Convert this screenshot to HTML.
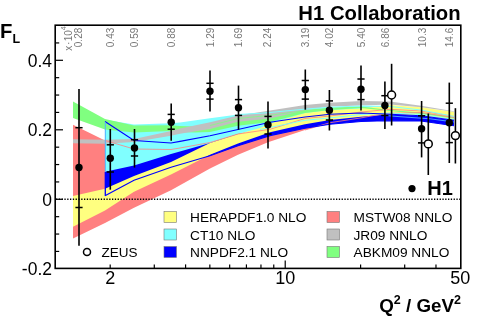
<!DOCTYPE html>
<html><head><meta charset="utf-8"><style>
html,body{margin:0;padding:0;background:#fff;}
svg{display:block;will-change:transform;}
</style></head><body>
<svg width="498" height="324" viewBox="0 0 498 324">
<rect width="498" height="324" fill="#fff"/>
<polygon points="73,124.7 105,140.5 134,149 171,149.5 180,148 210,142.5 238,134 270,129.3 305,118.5 330,116 361,112 390,109.3 421,111 454,116.5 454,117.5 421,112.5 385,113.5 361,117.9 330,122.7 305,130 268,142.3 238,154.8 210,168.5 171,190.2 134,207.8 105,223 73,238.5" fill="#ff8080"/>
<polygon points="105,121.5 134,140.5 171,143 180,141.4 210,135.7 238,129.5 270,122.3 305,117 330,114.3 361,113 385,114 421,115.7 454,120.3 454,125.7 421,121 385,120.8 361,121.5 330,124.2 305,128.3 270,135.6 238,145.8 210,155.7 171,167.3 134,180.2 105,195.8" fill="#0000ff"/>
<polygon points="105,119.8 134,124.6 171,123.3 180,122.5 210,118.2 238,114.5 260,113.3 270,112.5 305,109.1 330,107.2 361,106 390,106.5 421,110 454,116.4 454,119.5 421,114.5 390,113 361,114.5 330,117.9 305,120.3 270,127.5 260,129.5 238,134 210,143 171,154 134,165.6 105,171.7" fill="#80ffff"/>
<polygon points="73,196 105,188.8 134,176 171,162 210,143 238,134 260,128 270,123.5 305,113 330,110 361,108.5 390,105 421,107.3 454,112 454,120.3 421,115.7 390,114.3 361,116.7 330,120 305,124.3 270,132.2 238,143.6 210,154.7 171,174.6 134,191.7 105,210.5 73,226.7" fill="#ffff80"/>
<polygon points="73,101.4 105,119.1 134,125.6 171,125.3 180,126 195,126.5 210,126 238,119.5 270,116 305,110 330,107.5 361,106.5 390,110 421,112.5 454,117 454,118.5 421,114 390,111 361,108 330,110 305,113 270,122 238,125.7 210,132.1 195,132.5 180,132 171,130.9 134,132.5 105,129.5 73,118" fill="#80ff80"/>
<polygon points="73,139.2 105,139.7 134,138.9 171,130.9 180,128.6 210,122.2 238,115.6 270,110.4 305,105 330,102.8 361,101 390,101.6 421,105.7 454,111.2 454,111.8 421,107.3 390,104.6 361,105.6 330,106.4 305,110.3 270,118.5 238,121.7 210,128.9 180,133.7 171,135.7 134,142 105,143.7 73,143.2" fill="#c0c0c0"/>
<polyline points="105,140.5 134,149 171,149.5 180,148 210,142.5 238,134 270,129.3 305,118.5 330,116 361,112 390,109.3 421,111 454,116.5" fill="none" stroke="#ff8080" stroke-width="0.8"/>
<polyline points="305,130 330,122.7 361,117.9 385,113.5 421,112.5 454,117.5" fill="none" stroke="#ff8080" stroke-width="0.8"/>
<polyline points="238,114.5 260,113.3 270,112.5 305,109.1 330,107.2 361,106 390,106.5 421,110 454,116.4" fill="none" stroke="#80ffff" stroke-width="1"/>
<polyline points="260,129.5 270,127.5 305,120.3 330,117.9 361,114.5 390,113 421,114.5 454,119.5" fill="none" stroke="#80ffff" stroke-width="1"/>
<polyline points="105.3,172 105.3,195.8" fill="none" stroke="#0000ff" stroke-width="1.3"/>
<polyline points="105,121.5 134,140.5 171,143 180,141.4 210,135.7 238,129.5 270,122.3 305,117 330,114.3 361,113 385,114 421,115.7 454,120.3" fill="none" stroke="#0000ff" stroke-width="1.15"/>
<polyline points="105.3,122 105.3,172" fill="none" stroke="#50b0ff" stroke-width="1"/>
<polyline points="105,195.8 134,180.2 171,167.3 210,155.7 238,145.8 270,135.6 305,128.3 330,124.2 361,121.5 385,120.8 421,121 454,125.7" fill="none" stroke="#0000ff" stroke-width="1.15"/>
<polyline points="385,115.5 400,116.7 430,118.8 454,122" fill="none" stroke="#60c8ff" stroke-width="0.8"/>
<polyline points="210,125.5 238,118.5 270,115.3 305,110.6" fill="none" stroke="#80ff80" stroke-width="0.8"/>
<line x1="56" y1="199.3" x2="460.5" y2="199.3" stroke="#000" stroke-width="1.4" stroke-dasharray="1.3 1.5"/>
<line x1="79" y1="89" x2="79" y2="245.7" stroke="#000" stroke-width="1.6"/>
<line x1="75.4" y1="127.7" x2="82.6" y2="127.7" stroke="#000" stroke-width="1.5"/>
<line x1="75.4" y1="207.5" x2="82.6" y2="207.5" stroke="#000" stroke-width="1.5"/>
<circle cx="79" cy="167.5" r="3.7" fill="#000"/>
<line x1="110.3" y1="129" x2="110.3" y2="189.7" stroke="#000" stroke-width="1.6"/>
<line x1="106.7" y1="144.8" x2="113.89999999999999" y2="144.8" stroke="#000" stroke-width="1.5"/>
<line x1="106.7" y1="172" x2="113.89999999999999" y2="172" stroke="#000" stroke-width="1.5"/>
<circle cx="110.3" cy="158.3" r="3.7" fill="#000"/>
<line x1="134.5" y1="129" x2="134.5" y2="167.6" stroke="#000" stroke-width="1.6"/>
<line x1="130.9" y1="139.7" x2="138.1" y2="139.7" stroke="#000" stroke-width="1.5"/>
<line x1="130.9" y1="156" x2="138.1" y2="156" stroke="#000" stroke-width="1.5"/>
<circle cx="134.5" cy="148" r="3.7" fill="#000"/>
<line x1="171.2" y1="103.4" x2="171.2" y2="140.8" stroke="#000" stroke-width="1.6"/>
<line x1="167.6" y1="114.4" x2="174.79999999999998" y2="114.4" stroke="#000" stroke-width="1.5"/>
<line x1="167.6" y1="129.2" x2="174.79999999999998" y2="129.2" stroke="#000" stroke-width="1.5"/>
<circle cx="171.2" cy="122.2" r="3.7" fill="#000"/>
<line x1="210" y1="70.5" x2="210" y2="111.4" stroke="#000" stroke-width="1.6"/>
<line x1="206.4" y1="83.3" x2="213.6" y2="83.3" stroke="#000" stroke-width="1.5"/>
<line x1="206.4" y1="99.1" x2="213.6" y2="99.1" stroke="#000" stroke-width="1.5"/>
<circle cx="210" cy="91.3" r="3.7" fill="#000"/>
<line x1="238.5" y1="85.6" x2="238.5" y2="129.7" stroke="#000" stroke-width="1.6"/>
<line x1="234.9" y1="99.6" x2="242.1" y2="99.6" stroke="#000" stroke-width="1.5"/>
<line x1="234.9" y1="115.4" x2="242.1" y2="115.4" stroke="#000" stroke-width="1.5"/>
<circle cx="238.5" cy="107.7" r="3.7" fill="#000"/>
<line x1="268" y1="101.4" x2="268" y2="148.6" stroke="#000" stroke-width="1.6"/>
<line x1="264.4" y1="116.4" x2="271.6" y2="116.4" stroke="#000" stroke-width="1.5"/>
<line x1="264.4" y1="134" x2="271.6" y2="134" stroke="#000" stroke-width="1.5"/>
<circle cx="268" cy="124.7" r="3.7" fill="#000"/>
<line x1="305.3" y1="69.5" x2="305.3" y2="109.7" stroke="#000" stroke-width="1.6"/>
<line x1="301.7" y1="80.5" x2="308.90000000000003" y2="80.5" stroke="#000" stroke-width="1.5"/>
<line x1="301.7" y1="99.1" x2="308.90000000000003" y2="99.1" stroke="#000" stroke-width="1.5"/>
<circle cx="305.3" cy="89.6" r="3.7" fill="#000"/>
<line x1="329.4" y1="90" x2="329.4" y2="130.5" stroke="#000" stroke-width="1.6"/>
<line x1="325.79999999999995" y1="100.9" x2="333.0" y2="100.9" stroke="#000" stroke-width="1.5"/>
<line x1="325.79999999999995" y1="120" x2="333.0" y2="120" stroke="#000" stroke-width="1.5"/>
<circle cx="329.4" cy="110.2" r="3.7" fill="#000"/>
<line x1="361" y1="65.5" x2="361" y2="110.4" stroke="#000" stroke-width="1.6"/>
<line x1="357.4" y1="79" x2="364.6" y2="79" stroke="#000" stroke-width="1.5"/>
<line x1="357.4" y1="99.6" x2="364.6" y2="99.6" stroke="#000" stroke-width="1.5"/>
<circle cx="361" cy="89.3" r="3.7" fill="#000"/>
<line x1="384.9" y1="81.4" x2="384.9" y2="129" stroke="#000" stroke-width="1.6"/>
<line x1="381.29999999999995" y1="95.7" x2="388.5" y2="95.7" stroke="#000" stroke-width="1.5"/>
<line x1="381.29999999999995" y1="115.5" x2="388.5" y2="115.5" stroke="#000" stroke-width="1.5"/>
<circle cx="384.9" cy="105.5" r="3.7" fill="#000"/>
<line x1="421.6" y1="101" x2="421.6" y2="157.4" stroke="#000" stroke-width="1.6"/>
<line x1="418.0" y1="115.8" x2="425.20000000000005" y2="115.8" stroke="#000" stroke-width="1.5"/>
<line x1="418.0" y1="142.9" x2="425.20000000000005" y2="142.9" stroke="#000" stroke-width="1.5"/>
<circle cx="421.6" cy="128.8" r="3.7" fill="#000"/>
<line x1="449.3" y1="82.6" x2="449.3" y2="163" stroke="#000" stroke-width="1.6"/>
<line x1="445.7" y1="103.2" x2="452.90000000000003" y2="103.2" stroke="#000" stroke-width="1.5"/>
<line x1="445.7" y1="142.6" x2="452.90000000000003" y2="142.6" stroke="#000" stroke-width="1.5"/>
<circle cx="449.3" cy="122.8" r="3.7" fill="#000"/>
<line x1="391.6" y1="63.8" x2="391.6" y2="125.5" stroke="#000" stroke-width="1.6"/>
<circle cx="391.6" cy="95" r="3.95" fill="#fff" stroke="#000" stroke-width="1.5"/>
<line x1="428.3" y1="113.5" x2="428.3" y2="175" stroke="#000" stroke-width="1.6"/>
<circle cx="428.3" cy="143.9" r="3.95" fill="#fff" stroke="#000" stroke-width="1.5"/>
<line x1="455.4" y1="108.2" x2="455.4" y2="163.5" stroke="#000" stroke-width="1.6"/>
<circle cx="455.4" cy="135.6" r="3.95" fill="#fff" stroke="#000" stroke-width="1.5"/>
<rect x="55.2" y="25.2" width="405.6" height="243.2" fill="none" stroke="#000" stroke-width="1.6"/>
<line x1="55.2" y1="251.43" x2="59.2" y2="251.43" stroke="#000" stroke-width="1.2"/>
<line x1="55.2" y1="234.05" x2="59.2" y2="234.05" stroke="#000" stroke-width="1.2"/>
<line x1="55.2" y1="216.68" x2="59.2" y2="216.68" stroke="#000" stroke-width="1.2"/>
<line x1="55.2" y1="199.30" x2="63.0" y2="199.30" stroke="#000" stroke-width="1.2"/>
<line x1="55.2" y1="181.93" x2="59.2" y2="181.93" stroke="#000" stroke-width="1.2"/>
<line x1="55.2" y1="164.55" x2="59.2" y2="164.55" stroke="#000" stroke-width="1.2"/>
<line x1="55.2" y1="147.18" x2="59.2" y2="147.18" stroke="#000" stroke-width="1.2"/>
<line x1="55.2" y1="129.80" x2="63.0" y2="129.80" stroke="#000" stroke-width="1.2"/>
<line x1="55.2" y1="112.43" x2="59.2" y2="112.43" stroke="#000" stroke-width="1.2"/>
<line x1="55.2" y1="95.05" x2="59.2" y2="95.05" stroke="#000" stroke-width="1.2"/>
<line x1="55.2" y1="77.68" x2="59.2" y2="77.68" stroke="#000" stroke-width="1.2"/>
<line x1="55.2" y1="60.30" x2="63.0" y2="60.30" stroke="#000" stroke-width="1.2"/>
<line x1="55.2" y1="42.93" x2="59.2" y2="42.93" stroke="#000" stroke-width="1.2"/>
<line x1="110.20" y1="268.4" x2="110.20" y2="264.4" stroke="#000" stroke-width="1.2"/>
<line x1="154.29" y1="268.4" x2="154.29" y2="264.4" stroke="#000" stroke-width="1.2"/>
<line x1="185.58" y1="268.4" x2="185.58" y2="264.4" stroke="#000" stroke-width="1.2"/>
<line x1="209.84" y1="268.4" x2="209.84" y2="264.4" stroke="#000" stroke-width="1.2"/>
<line x1="229.67" y1="268.4" x2="229.67" y2="264.4" stroke="#000" stroke-width="1.2"/>
<line x1="246.43" y1="268.4" x2="246.43" y2="264.4" stroke="#000" stroke-width="1.2"/>
<line x1="260.96" y1="268.4" x2="260.96" y2="264.4" stroke="#000" stroke-width="1.2"/>
<line x1="273.76" y1="268.4" x2="273.76" y2="264.4" stroke="#000" stroke-width="1.2"/>
<line x1="360.60" y1="268.4" x2="360.60" y2="264.4" stroke="#000" stroke-width="1.2"/>
<line x1="404.69" y1="268.4" x2="404.69" y2="264.4" stroke="#000" stroke-width="1.2"/>
<line x1="435.98" y1="268.4" x2="435.98" y2="264.4" stroke="#000" stroke-width="1.2"/>
<line x1="285.22" y1="268.4" x2="285.22" y2="260.59999999999997" stroke="#000" stroke-width="1.2"/>
<text x="52" y="66.5" font-family="Liberation Sans, sans-serif" font-size="17.5" text-anchor="end">0.4</text>
<text x="52" y="136.0" font-family="Liberation Sans, sans-serif" font-size="17.5" text-anchor="end">0.2</text>
<text x="52" y="205.5" font-family="Liberation Sans, sans-serif" font-size="17.5" text-anchor="end">0</text>
<text x="52" y="275.0" font-family="Liberation Sans, sans-serif" font-size="17.5" text-anchor="end">-0.2</text>
<text x="110.2" y="284.3" font-family="Liberation Sans, sans-serif" font-size="18" text-anchor="middle">2</text>
<text x="285.2" y="284.3" font-family="Liberation Sans, sans-serif" font-size="18" text-anchor="middle">10</text>
<text x="460.2" y="284.3" font-family="Liberation Sans, sans-serif" font-size="18" text-anchor="middle">50</text>
<text x="460.6" y="19.9" font-family="Liberation Sans, sans-serif" font-size="20.3" font-weight="bold" text-anchor="end">H1 Collaboration</text>
<text x="0" y="37.7" font-family="Liberation Sans, sans-serif" font-size="20.3" font-weight="bold">F<tspan font-size="12.5" dy="5.2">L</tspan></text>
<text x="461" y="312" font-family="Liberation Sans, sans-serif" font-size="18.8" font-weight="bold" text-anchor="end">Q<tspan font-size="12.5" dy="-8">2</tspan><tspan dy="8"> / GeV</tspan><tspan font-size="12.5" dy="-8">2</tspan></text>
<rect x="164" y="211.5" width="12.5" height="11" fill="#ffff80" stroke="#777" stroke-width="0.6"/>
<text x="190" y="222.2" font-family="Liberation Sans, sans-serif" font-size="13.7">HERAPDF1.0 NLO</text>
<rect x="164" y="229.0" width="12.5" height="11" fill="#80ffff" stroke="#777" stroke-width="0.6"/>
<text x="190" y="239.7" font-family="Liberation Sans, sans-serif" font-size="13.7">CT10 NLO</text>
<rect x="164" y="246.5" width="12.5" height="11" fill="#0000ff" stroke="#777" stroke-width="0.6"/>
<text x="190" y="257.2" font-family="Liberation Sans, sans-serif" font-size="13.7">NNPDF2.1 NLO</text>
<rect x="327" y="211.5" width="12.5" height="11" fill="#ff8080" stroke="#777" stroke-width="0.6"/>
<text x="353.5" y="222.2" font-family="Liberation Sans, sans-serif" font-size="13.7">MSTW08 NNLO</text>
<rect x="327" y="229.0" width="12.5" height="11" fill="#c0c0c0" stroke="#777" stroke-width="0.6"/>
<text x="353.5" y="239.7" font-family="Liberation Sans, sans-serif" font-size="13.7">JR09 NNLO</text>
<rect x="327" y="246.5" width="12.5" height="11" fill="#80ff80" stroke="#777" stroke-width="0.6"/>
<text x="353.5" y="257.2" font-family="Liberation Sans, sans-serif" font-size="13.7">ABKM09 NNLO</text>
<circle cx="87" cy="252" r="3.5" fill="#fff" stroke="#000" stroke-width="1.5"/>
<text x="101.5" y="257" font-family="Liberation Sans, sans-serif" font-size="13.5">ZEUS</text>
<circle cx="412" cy="188.6" r="3.6" fill="#000"/>
<text x="427.3" y="195.2" font-family="Liberation Sans, sans-serif" font-size="20" font-weight="bold">H1</text>
<text transform="translate(81.6,47.2) rotate(-90)" font-family="Liberation Sans, sans-serif" font-size="10" fill="#787878">0.28</text>
<text transform="translate(113.6,47.2) rotate(-90)" font-family="Liberation Sans, sans-serif" font-size="10" fill="#787878">0.43</text>
<text transform="translate(137.6,47.2) rotate(-90)" font-family="Liberation Sans, sans-serif" font-size="10" fill="#787878">0.59</text>
<text transform="translate(174.6,47.2) rotate(-90)" font-family="Liberation Sans, sans-serif" font-size="10" fill="#787878">0.88</text>
<text transform="translate(213.6,47.2) rotate(-90)" font-family="Liberation Sans, sans-serif" font-size="10" fill="#787878">1.29</text>
<text transform="translate(241.9,47.2) rotate(-90)" font-family="Liberation Sans, sans-serif" font-size="10" fill="#787878">1.69</text>
<text transform="translate(270.90000000000003,47.2) rotate(-90)" font-family="Liberation Sans, sans-serif" font-size="10" fill="#787878">2.24</text>
<text transform="translate(308.6,47.2) rotate(-90)" font-family="Liberation Sans, sans-serif" font-size="10" fill="#787878">3.19</text>
<text transform="translate(332.8,47.2) rotate(-90)" font-family="Liberation Sans, sans-serif" font-size="10" fill="#787878">4.02</text>
<text transform="translate(364.90000000000003,47.2) rotate(-90)" font-family="Liberation Sans, sans-serif" font-size="10" fill="#787878">5.40</text>
<text transform="translate(388.90000000000003,47.2) rotate(-90)" font-family="Liberation Sans, sans-serif" font-size="10" fill="#787878">6.86</text>
<text transform="translate(425.6,47.2) rotate(-90)" font-family="Liberation Sans, sans-serif" font-size="10" fill="#787878">10.3</text>
<text transform="translate(453.3,47.2) rotate(-90)" font-family="Liberation Sans, sans-serif" font-size="10" fill="#787878">14.6</text>
<text transform="translate(72,50.8) rotate(-90)" font-family="Liberation Sans, sans-serif" font-size="10" fill="#787878">x<tspan dx="0.8">·</tspan><tspan dx="0.3">10</tspan><tspan font-size="7" dy="-6.3">4</tspan></text>
</svg>
</body></html>
